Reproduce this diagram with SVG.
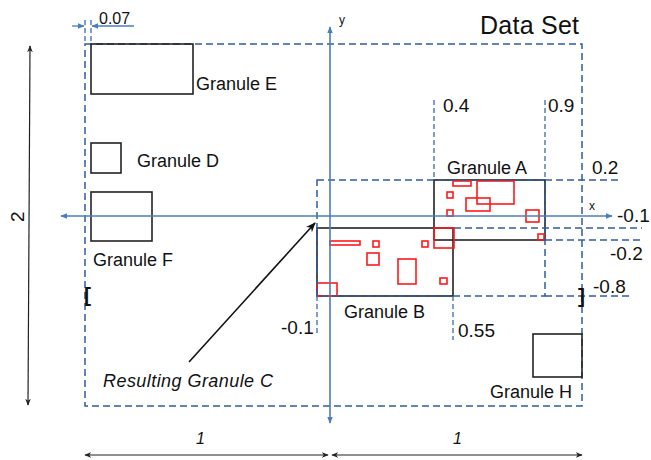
<svg xmlns="http://www.w3.org/2000/svg" width="651" height="460" viewBox="0 0 651 460">
<style>
text{font-family:"Liberation Sans",Arial,sans-serif;fill:#111}
.lbl{font-size:18px}
.num{font-size:19px}
.dash{fill:none;stroke:#2f5d9f;stroke-width:1.5;stroke-dasharray:7 4}
.fine{fill:none;stroke:#3a6aad;stroke-width:1.3;stroke-dasharray:5 3}
.axis{stroke:#4a7ebb;stroke-width:1.6;fill:none}
.gran{fill:none;stroke:#222;stroke-width:1.6}
.red{fill:none;stroke:#ff1a1a;stroke-width:1.6}
.dim{stroke:#222;stroke-width:1.2;fill:none}
</style>
<defs>
<marker id="ab" viewBox="0 0 10 10" refX="9" refY="5" markerWidth="7" markerHeight="7" orient="auto-start-reverse" markerUnits="userSpaceOnUse"><path d="M0,1 L10,5 L0,9 z" fill="#4a7ebb"/></marker>
<marker id="ak" viewBox="0 0 10 10" refX="9" refY="5" markerWidth="7" markerHeight="7" orient="auto-start-reverse" markerUnits="userSpaceOnUse"><path d="M0,1 L10,5 L0,9 L3,5 z" fill="#222"/></marker>
<marker id="ak2" viewBox="0 0 10 10" refX="9" refY="5" markerWidth="10" markerHeight="10" orient="auto" markerUnits="userSpaceOnUse"><path d="M0,1 L10,5 L0,9 L3,5 z" fill="#111"/></marker>
</defs>

<!-- Data set -->
<g id="dataset">
<rect class="dash" x="85" y="44" width="497" height="362"/>
<text x="480" y="34" font-size="25" textLength="99">Data Set</text>
</g>

<!-- Granules -->
<g id="granule-e"><rect class="gran" x="91" y="44" width="102" height="50"/><text class="lbl" x="196" y="90">Granule E</text></g>
<g id="granule-d"><rect class="gran" x="91" y="143" width="30" height="30"/><text class="lbl" x="137" y="167">Granule D</text></g>
<g id="granule-f"><rect class="gran" x="91" y="192" width="61" height="49"/><text class="lbl" x="93" y="266">Granule F</text></g>
<g id="granule-h"><rect class="gran" x="533" y="334" width="49" height="43"/><text class="lbl" x="490" y="398">Granule H</text></g>
<g id="granule-a"><rect class="gran" x="434" y="180" width="111" height="60"/><text class="lbl" x="447" y="174">Granule A</text></g>
<g id="granule-b"><rect class="gran" x="317" y="228" width="136" height="68"/><text class="lbl" x="344" y="318">Granule B</text></g>

<!-- red sub-granules -->
<g id="sub-granules">
<rect class="red" x="330" y="241" width="30" height="4"/>
<rect class="red" x="373" y="241" width="6" height="6"/>
<rect class="red" x="367" y="253" width="12" height="12"/>
<rect class="red" x="398" y="259" width="18" height="25"/>
<rect class="red" x="422" y="241" width="6" height="6"/>
<rect class="red" x="440" y="278" width="7" height="6"/>
<rect class="red" x="317" y="283" width="20" height="13"/>
<rect class="red" x="434" y="228" width="20" height="20"/>
<rect class="red" x="453" y="181" width="18" height="5"/>
<rect class="red" x="477" y="181" width="37" height="23"/>
<rect class="red" x="466" y="198" width="24" height="13"/>
<rect class="red" x="447" y="192" width="6" height="6"/>
<rect class="red" x="447" y="210" width="6" height="6"/>
<rect class="red" x="526" y="210" width="13" height="12"/>
<rect class="red" x="538" y="234" width="6" height="6"/>
</g>

<!-- Resulting granule C -->
<g id="granule-c">
<rect class="dash" x="317" y="180" width="228" height="116"/>
<text x="103" y="387" font-size="18" font-style="italic" textLength="170">Resulting Granule C</text>
</g>

<!-- connectors / guides -->
<g id="connectors">
<!-- axes -->
<line class="axis" x1="612" y1="216" x2="61" y2="216" marker-start="url(#ab)" marker-end="url(#ab)"/>
<line class="axis" x1="330" y1="423" x2="330" y2="27" marker-start="url(#ab)" marker-end="url(#ab)"/>
<!-- extension guides -->
<line class="dash" x1="545" y1="180" x2="618" y2="180"/>
<line class="dash" x1="454" y1="228" x2="642" y2="228"/>
<line class="dash" x1="545" y1="240" x2="642" y2="240"/>
<line class="dash" x1="545" y1="296" x2="632" y2="296"/>
<line class="fine" x1="434" y1="100" x2="434" y2="180"/>
<line class="fine" x1="545" y1="100" x2="545" y2="180"/>
<line class="fine" x1="453" y1="296" x2="453" y2="340"/>
<line class="fine" x1="317" y1="296" x2="317" y2="333"/>
<line class="fine" x1="85" y1="20" x2="85" y2="44"/>
<line class="fine" x1="91" y1="20" x2="91" y2="44"/>
<!-- 0.07 arrows -->
<line x1="72" y1="26" x2="84" y2="26" stroke="#4a7ebb" stroke-width="1.3" marker-end="url(#ab)"/>
<line x1="134" y1="26" x2="92" y2="26" stroke="#4a7ebb" stroke-width="1.3" marker-end="url(#ab)"/>
<!-- pointer to C -->
<line x1="189" y1="362" x2="315" y2="223" stroke="#111" stroke-width="1.6" marker-end="url(#ak2)"/>
<!-- dimension arrows -->
<line class="dim" x1="28" y1="405" x2="30" y2="46" marker-start="url(#ak)" marker-end="url(#ak)"/>
<line class="dim" x1="85" y1="455" x2="328" y2="455" marker-start="url(#ak)" marker-end="url(#ak)"/>
<line class="dim" x1="332" y1="455" x2="582" y2="455" marker-start="url(#ak)" marker-end="url(#ak)"/>
</g>

<!-- labels -->
<g id="labels">
<text x="99" y="24" font-size="16">0.07</text>
<text x="339" y="24" font-size="12">y</text>
<text x="589" y="210" font-size="12">x</text>
<text class="num" x="443" y="112">0.4</text>
<text class="num" x="548" y="112">0.9</text>
<text class="num" x="592" y="174">0.2</text>
<text class="num" x="617" y="222">-0.1</text>
<text class="num" x="610" y="260">-0.2</text>
<text class="num" x="593" y="293">-0.8</text>
<text class="num" x="458" y="337">0.55</text>
<text class="num" x="281" y="334">-0.1</text>
<text x="84" y="302" font-size="21" font-weight="bold">[</text>
<text x="578" y="303" font-size="21" font-weight="bold">]</text>
<text x="196" y="444" font-size="16" font-style="italic">1</text>
<text x="453" y="444" font-size="16" font-style="italic">1</text>
<text x="0" y="0" font-size="19" transform="translate(24,222) rotate(-90)">2</text>
</g>
</svg>
